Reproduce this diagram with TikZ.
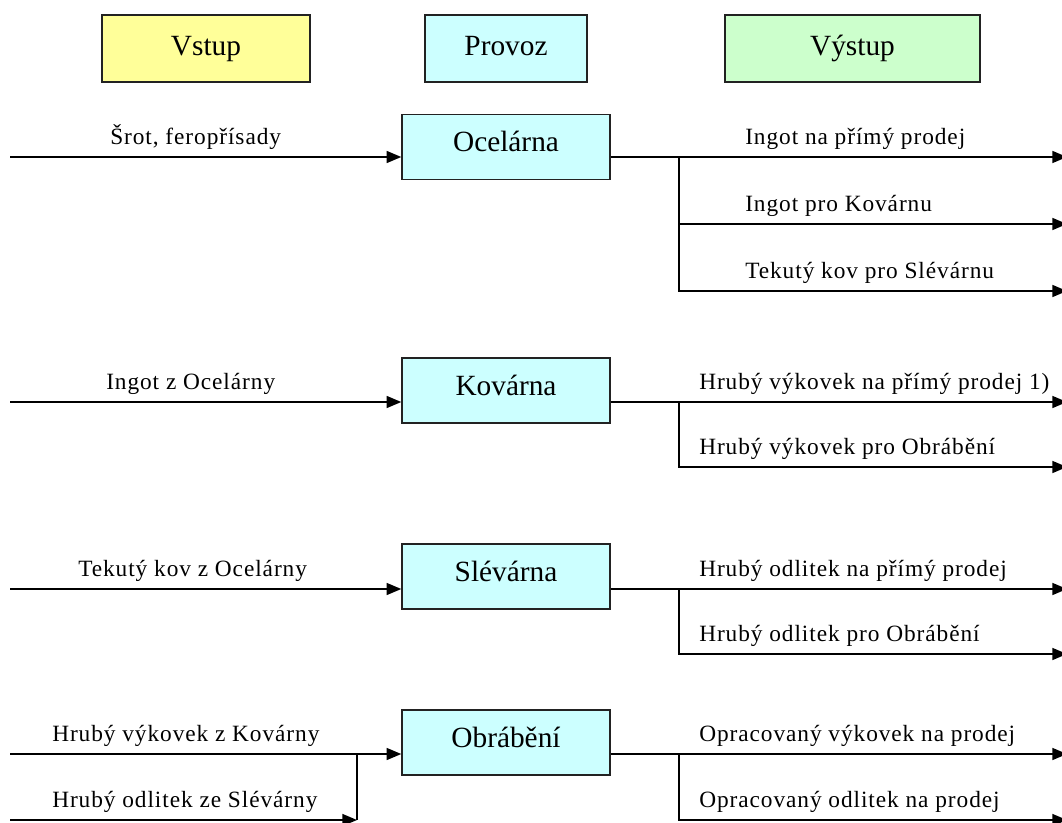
\documentclass[tikz,border=0pt]{standalone}
\usepackage{fontspec}
\setmainfont{Liberation Serif}
\newfontfamily\flowfont[LetterSpace=4]{Liberation Serif}
\usetikzlibrary{arrows.meta}

\definecolor{inyellow}{HTML}{FFFF99}
\definecolor{opcyan}{HTML}{CCFFFF}
\definecolor{outgreen}{HTML}{CCFFCC}
\definecolor{edge}{HTML}{222222}

\begin{document}
\begin{tikzpicture}[x=0.75pt,y=-0.75pt,
  box/.style={draw=edge, line width=1.1pt, inner sep=0pt,
    minimum height=48.75pt, minimum width=156pt,
    font=\fontsize{22}{26}\selectfont, text height=6.75pt, text depth=0pt},
  hdr/.style={box, minimum height=50.25pt, text height=10.5pt},
  flow/.style={line width=1.1pt, draw=black},
  feed/.style={flow, -{Triangle[length=11pt,width=9pt]}},
  txt/.style={anchor=base west, inner sep=0pt, font=\flowfont\fontsize{17.5}{21}\selectfont}
]
\useasboundingbox (0,0) rectangle (1062,823);

% column headers
\node[hdr, fill=inyellow, minimum width=156pt]    (hin)  at (206,48.5)   {Vstup};
\node[hdr, fill=opcyan,   minimum width=121.5pt]  (hop)  at (506,48.5)   {Provoz};
\node[hdr, fill=outgreen, minimum width=191.25pt] (hout) at (852.5,48.5) {Výstup};

% operations
\node[box, fill=opcyan] (ocel) at (506,147)   {Ocelárna};
\node[box, fill=opcyan] (kov)  at (506,390.5) {Kovárna};
\node[box, fill=opcyan] (slev) at (506,576.5) {Slévárna};
\node[box, fill=opcyan] (obr)  at (506,742.5) {Obrábění};

% ---------- Ocelárna ----------
\coordinate (i1) at (10,157);
\coordinate (b1) at (679,157);
\coordinate (o11) at (1067,157);
\coordinate (o12) at (1067,224);
\coordinate (o13) at (1067,291);
\draw[feed] (i1) -- (i1 -| ocel.west);
\draw[feed] (ocel.east |- i1) -- (o11);
\draw[feed] (b1) |- (o12);
\draw[feed] (b1) |- (o13);
\node[txt] (t10) at (110,144.5) {Šrot, feropřísady};
\node[txt] (t11) at (745,144.5) {Ingot na přímý prodej};
\node[txt] (t12) at (745,211.5) {Ingot pro Kovárnu};
\node[txt] (t13) at (745,278.5) {Tekutý kov pro Slévárnu};

% ---------- Kovárna ----------
\coordinate (i2) at (10,402);
\coordinate (b2) at (679,402);
\coordinate (o21) at (1067,402);
\coordinate (o22) at (1067,467);
\draw[feed] (i2) -- (i2 -| kov.west);
\draw[feed] (kov.east |- i2) -- (o21);
\draw[feed] (b2) |- (o22);
\node[txt] (t20) at (106,389.5) {Ingot z Ocelárny};
\node[txt] (t21) at (699,389.5) {Hrubý výkovek na přímý prodej 1)};
\node[txt] (t22) at (699,454.5) {Hrubý výkovek pro Obrábění};

% ---------- Slévárna ----------
\coordinate (i3) at (10,589);
\coordinate (b3) at (679,589);
\coordinate (o31) at (1067,589);
\coordinate (o32) at (1067,654);
\draw[feed] (i3) -- (i3 -| slev.west);
\draw[feed] (slev.east |- i3) -- (o31);
\draw[feed] (b3) |- (o32);
\node[txt] (t30) at (78,576.5) {Tekutý kov z Ocelárny};
\node[txt] (t31) at (699,576.5) {Hrubý odlitek na přímý prodej};
\node[txt] (t32) at (699,641.5) {Hrubý odlitek pro Obrábění};

% ---------- Obrábění ----------
\coordinate (i41) at (10,754);
\coordinate (i42) at (10,820);
\coordinate (j4) at (357,820);
\coordinate (b4) at (679,754);
\coordinate (o41) at (1067,754);
\coordinate (o42) at (1067,820);
\draw[feed] (i41) -- (i41 -| obr.west);
\draw[feed] (i42) -- (j4);
\draw[flow] (j4) -- (j4 |- i41);
\draw[feed] (obr.east |- i41) -- (o41);
\draw[feed] (b4) |- (o42);
\node[txt] (t40) at (52,741.5) {Hrubý výkovek z Kovárny};
\node[txt] (t41) at (52,807.5) {Hrubý odlitek ze Slévárny};
\node[txt] (t42) at (699,741.5) {Opracovaný výkovek na prodej};
\node[txt] (t43) at (699,807.5) {Opracovaný odlitek na prodej};
\end{tikzpicture}
\end{document}
